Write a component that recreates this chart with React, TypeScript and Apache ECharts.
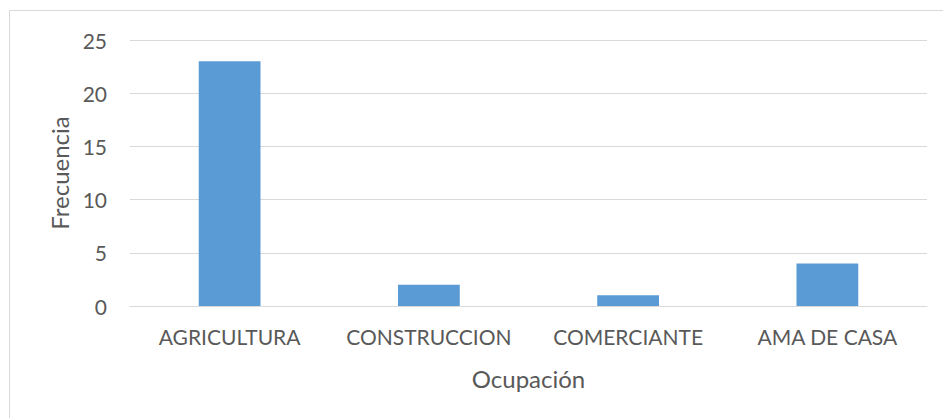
import React, { useEffect, useRef } from "react";
import * as echarts from "echarts";

const categories = ["AGRICULTURA", "CONSTRUCCION", "COMERCIANTE", "AMA DE CASA"];
const frecuencia = [23, 2, 1, 4];
const yAxisTitle = "Frecuencia";
const xAxisTitle = "Ocupación";

const FONT = "Lato, 'Liberation Sans', sans-serif";

export default function App() {
  const ref = useRef<HTMLDivElement>(null);
  useEffect(() => {
    if (!ref.current) return;
    const chart = echarts.init(ref.current, undefined, { renderer: "svg" });
    chart.setOption({
      animation: false,
      backgroundColor: "#ffffff",
      graphic: [
        {
          type: "rect",
          shape: { x: 9.5, y: 10.5, width: 960, height: 430 },
          style: { fill: "none", stroke: "#d9d9d9", lineWidth: 1 },
          silent: true,
        },
      ],
      grid: { left: 130, right: 16, top: 40, bottom: 112, containLabel: false },
      xAxis: {
        type: "category",
        data: categories,
        name: xAxisTitle,
        nameLocation: "middle",
        nameGap: 60,
        nameTextStyle: { fontFamily: FONT, fontSize: 24, color: "#595959" },
        axisLine: { show: true, lineStyle: { color: "#d9d9d9", width: 1 } },
        axisTick: { show: false },
        axisLabel: {
          interval: 0,
          hideOverlap: false,
          fontFamily: FONT,
          fontSize: 21,
          color: "#595959",
          margin: 20,
        },
      },
      yAxis: {
        type: "value",
        min: 0,
        max: 25,
        interval: 5,
        name: yAxisTitle,
        nameLocation: "middle",
        nameGap: 58,
        nameTextStyle: { fontFamily: FONT, fontSize: 24, color: "#595959" },
        axisLine: { show: false },
        axisTick: { show: false },
        splitLine: { lineStyle: { color: "#d9d9d9", width: 1 } },
        axisLabel: { fontFamily: FONT, fontSize: 21, color: "#595959", margin: 23 },
      },
      series: [
        {
          type: "bar",
          data: frecuencia,
          barWidth: "31%",
          itemStyle: { color: "#5b9bd5" },
        },
      ],
    });
    return () => chart.dispose();
  }, []);
  return (
    <div
      ref={ref}
      style={{ position: "fixed", left: 0, top: 0, width: 943, height: 418 }}
    />
  );
}
